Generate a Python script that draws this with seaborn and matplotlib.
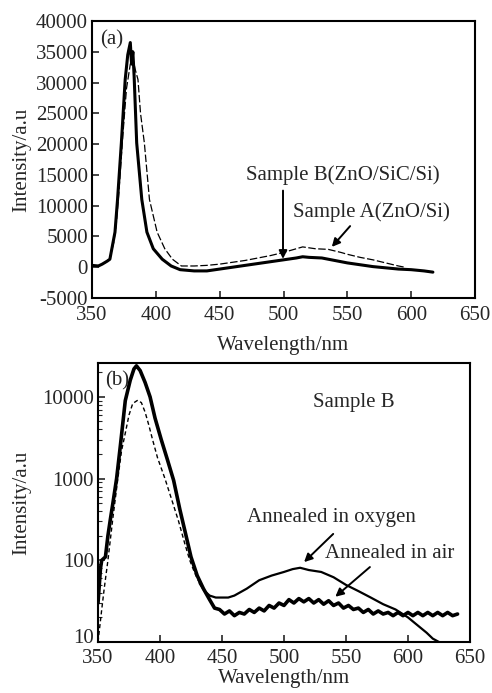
import seaborn as sns
import matplotlib.pyplot as plt
import pandas as pd
from matplotlib.ticker import FixedLocator, NullFormatter
from matplotlib.transforms import ScaledTranslation

sns.set_style("ticks")
plt.rcParams["font.family"] = ["Liberation Serif", "DejaVu Serif"]
plt.rcParams["xtick.direction"] = "in"
plt.rcParams["ytick.direction"] = "in"
plt.rcParams["axes.unicode_minus"] = False

# ---- panel (a): PL spectra of the two samples (linear scale)
a_wl_B = [350, 355, 358, 362, 364, 366, 368, 370, 373, 376, 378, 380, 381, 382, 383,
          385, 389, 393, 398, 405, 412, 419, 430, 440, 450, 460, 470, 480, 490, 500,
          510, 515, 520, 530, 540, 550, 560, 570, 580, 590, 600, 610, 617]
a_int_B = [300, 200, 500, 1000, 1300, 3500, 5700, 11000, 20200, 30500, 34500, 36500, 33000, 35000, 31000,
           20200, 11000, 5700, 3000, 1300, 200, -400, -600, -600, -300, 0, 300, 600, 900, 1200,
           1500, 1700, 1600, 1500, 1100, 700, 400, 100, -100, -300, -400, -600, -800]

a_wl_A = [350, 356, 360, 364, 367, 369, 371, 374, 377, 380, 382, 384, 386, 388, 391,
          395, 401, 407, 413, 420, 430, 440, 450, 460, 470, 480, 490, 500, 510, 515,
          525, 535, 545, 550, 560, 570, 580, 590, 595]
a_int_A = [200, 300, 700, 1500, 4000, 7000, 12000, 21000, 29000, 33000, 34000, 32000, 30500, 25000, 20200,
           11000, 5700, 3000, 1300, 200, 200, 300, 500, 800, 1100, 1500, 1900, 2400, 3000, 3300,
           3000, 2900, 2400, 2100, 1600, 1200, 700, 200, 0]

# ---- panel (b): sample B annealed in air / oxygen (log scale)
b_wl_air = [350, 352, 353, 356, 358, 360, 362, 365, 368, 372, 376, 379, 381, 384, 388,
            392, 396, 401, 406, 411, 416, 421, 425, 430, 435,
            440, 444, 448, 452, 456, 460, 464, 468, 472, 476, 480, 484, 488, 492, 496,
            500, 504, 508, 512, 516, 520, 524, 528, 532, 536, 540, 544, 548, 552, 556,
            560, 564, 568, 572, 576, 580, 584, 588, 592, 596, 600, 604, 608, 612, 616,
            620, 624, 628, 632, 636, 640]
b_int_air = [30, 80, 100, 110, 200, 320, 500, 1000, 2500, 9000, 16000, 22000, 24000, 21000, 15000,
             10000, 5500, 3000, 1700, 950, 420, 200, 110, 65, 45,
             33, 26, 25, 22, 24, 21, 23, 22, 25, 23, 26, 24, 28, 26, 30,
             28, 33, 30, 34, 31, 34, 30, 33, 29, 32, 28, 30, 26, 28, 25,
             26, 23, 25, 22, 24, 22, 23, 21, 23, 21, 23, 21, 23, 21, 23,
             21, 23, 21, 23, 21, 22]

b_wl_oxy = [350, 353, 355, 358, 362, 366, 369, 372, 375, 378, 382, 385, 388, 391, 394,
            398, 404, 410, 415, 420, 424, 428, 432, 436, 440, 445, 450, 455, 460, 470,
            480, 490, 500, 507, 513, 520, 530, 540, 550, 560, 570, 580, 590, 600, 610,
            615, 620, 625, 630]
b_int_oxy = [10, 25, 45, 100, 330, 1000, 2200, 3600, 6000, 8300, 9100, 8500, 6500, 4500, 3000,
             1800, 1000, 520, 300, 160, 100, 70, 52, 42, 37, 35, 35, 35, 37, 45,
             57, 65, 72, 78, 81, 76, 72, 62, 50, 42, 35, 29, 25, 20, 15,
             13, 11, 10, 9]

df_aB = pd.DataFrame({"wl": a_wl_B, "I": a_int_B})
df_aA = pd.DataFrame({"wl": a_wl_A, "I": a_int_A})
df_air = pd.DataFrame({"wl": b_wl_air, "I": b_int_air})
df_oxy = pd.DataFrame({"wl": b_wl_oxy, "I": b_int_oxy})

fig = plt.figure(figsize=(4.92, 6.93), dpi=100)
ax1 = fig.add_axes([0.187, 0.570, 0.7785, 0.3997])
ax2 = fig.add_axes([0.1992, 0.0736, 0.756, 0.4026])

fs = 15
arrow = dict(arrowstyle="-|>", color="black", lw=1.4, mutation_scale=12)

# (a)
sns.lineplot(data=df_aA, x="wl", y="I", ax=ax1, color="black", lw=0.9,
             linestyle=(0, (6, 2)), sort=False)
sns.lineplot(data=df_aB, x="wl", y="I", ax=ax1, color="black", lw=2.2, sort=False)
ax1.set_xlim(350, 650)
ax1.set_ylim(-5000, 40000)
ax1.set_xticks(range(350, 651, 50))
ax1.set_yticks(range(-5000, 40001, 5000))
ax1.set_xlabel("Wavelength/nm", fontsize=fs, labelpad=8)
ax1.set_ylabel("Intensity/a.u", fontsize=fs, labelpad=3)
ax1.text(365.7, 36900, "(a)", fontsize=fs, ha="center", va="center")
ax1.annotate("", xy=(499.6, 900), xytext=(499.6, 12900), arrowprops=arrow)
ax1.text(546.6, 14980, "Sample B(ZnO/SiC/Si)", fontsize=fs, ha="center", va="center")
ax1.annotate("", xy=(536.4, 2960), xytext=(553.6, 7020), arrowprops=arrow)
ax1.text(568.5, 8970, "Sample A(ZnO/Si)", fontsize=fs, ha="center", va="center")

# (b)
uv = df_oxy[df_oxy["wl"] <= 432]
vis = df_oxy[df_oxy["wl"] >= 432]
sns.lineplot(data=uv, x="wl", y="I", ax=ax2, color="black", lw=1.0,
             linestyle=(0, (3, 2)), sort=False)
sns.lineplot(data=vis, x="wl", y="I", ax=ax2, color="black", lw=1.6, sort=False)
sns.lineplot(data=df_air, x="wl", y="I", ax=ax2, color="black", lw=2.6, sort=False)
ax2.set_yscale("log")
ax2.set_xlim(350, 650)
ax2.set_ylim(10, 26000)
ax2.set_xticks(range(350, 651, 50))
ax2.yaxis.set_major_locator(FixedLocator([10, 100, 1000, 10000]))
ax2.set_yticklabels(["10", "100", "1000", "10000"])
ax2.yaxis.set_minor_formatter(NullFormatter())
ax2.set_xlabel("Wavelength/nm", fontsize=fs, labelpad=1)
ax2.set_ylabel("Intensity/a.u", fontsize=fs, labelpad=8)
ax2.text(365.3, 15500, "(b)", fontsize=fs, ha="center", va="center")
ax2.text(556.6, 8500, "Sample B", fontsize=fs, ha="center", va="center")
ax2.text(538, 330, "Annealed in oxygen", fontsize=fs, ha="center", va="center")
ax2.annotate("", xy=(514.6, 90), xytext=(541.3, 222), arrowprops=arrow)
ax2.text(584.9, 122, "Annealed in air", fontsize=fs, ha="center", va="center")
ax2.annotate("", xy=(539.7, 34), xytext=(571, 87), arrowprops=arrow)

for ax in (ax1, ax2):
    ax.tick_params(axis="both", which="major", labelsize=fs, length=5, width=1.2,
                   top=False, right=False)
    ax.tick_params(axis="y", which="major", pad=3)
    ax.tick_params(axis="y", which="minor", length=3, width=0.8)
    for sp in ax.spines.values():
        sp.set_linewidth(1.5)
        sp.set_color("black")
ax1.tick_params(axis="x", which="major", pad=6)
ax2.tick_params(axis="x", which="major", pad=5)

# lift the bottom "10" label a little, as in the original
lbl = ax2.get_yticklabels()[0]
lbl.set_transform(lbl.get_transform() + ScaledTranslation(0, 4 / 72, fig.dpi_scale_trans))

fig.savefig("out.png", dpi=100)
